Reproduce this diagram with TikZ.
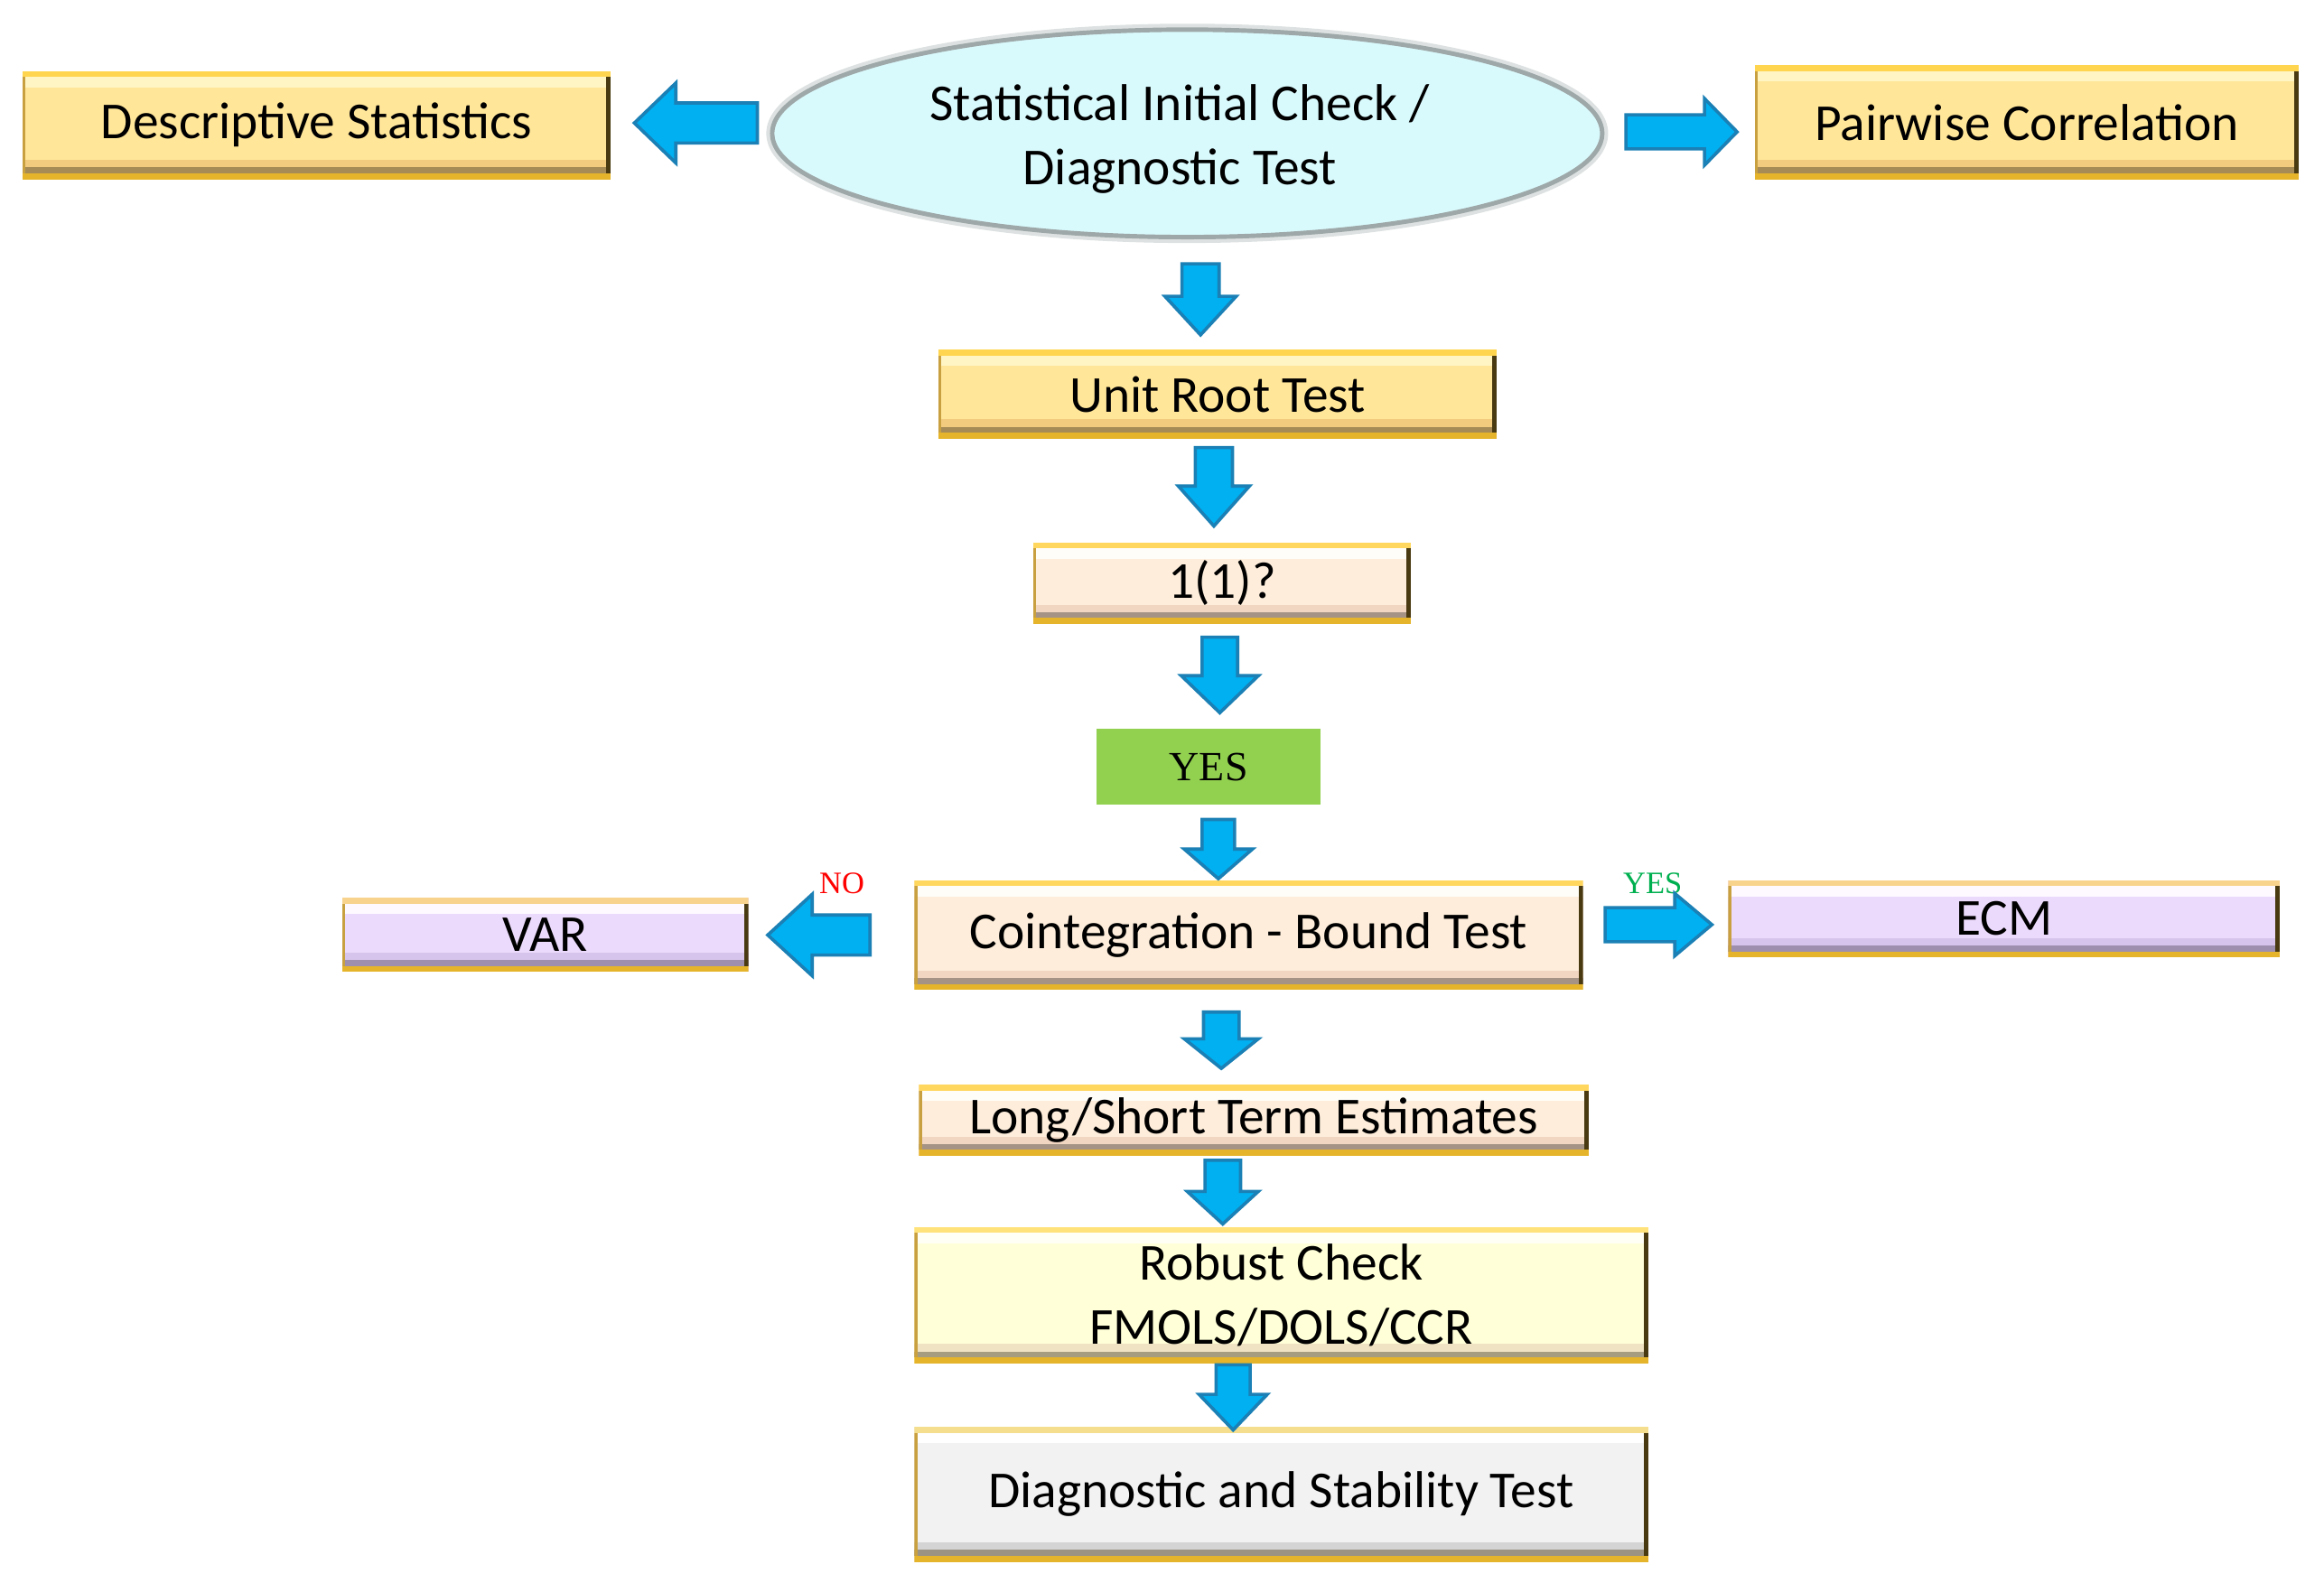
\documentclass[tikz,border=0pt]{standalone}
\usepackage{fontspec}
\setmainfont{Carlito}
\newfontfamily\tnrfont{Liberation Serif}
\usetikzlibrary{shapes.geometric}
\newcommand\mainfs{\fontsize{35}{43}\selectfont}
\definecolor{gbody}{HTML}{FFE699}
\definecolor{gtop}{HTML}{FFD54F}
\definecolor{ghi}{HTML}{FFF5C4}
\definecolor{glow}{HTML}{F2CB7F}
\definecolor{gdark}{HTML}{A68B56}
\definecolor{pbody}{HTML}{FDEDDA}
\definecolor{ptop}{HTML}{FFD75E}
\definecolor{phi}{HTML}{FFFDF8}
\definecolor{plow}{HTML}{F1D6C2}
\definecolor{pdark}{HTML}{A59486}
\definecolor{lbody}{HTML}{ECDAFC}
\definecolor{ltop}{HTML}{F8D38E}
\definecolor{lhi}{HTML}{FDF9FF}
\definecolor{llow}{HTML}{D6C4EC}
\definecolor{ldark}{HTML}{9E8FAE}
\definecolor{ybody}{HTML}{FFFFD8}
\definecolor{ytop}{HTML}{FFE27A}
\definecolor{yhi}{HTML}{FFFFF5}
\definecolor{ylow}{HTML}{EFE3C3}
\definecolor{ydark}{HTML}{A69C80}
\definecolor{sbody}{HTML}{F2F2F2}
\definecolor{stop}{HTML}{F5DF8E}
\definecolor{shi}{HTML}{FFFFFF}
\definecolor{slow}{HTML}{D4D4D4}
\definecolor{sdark}{HTML}{9C9382}
\definecolor{bgold}{HTML}{E5B42A}
\definecolor{edgedark}{HTML}{4A3A12}
\definecolor{edgegold}{HTML}{C9A040}
\definecolor{arrfill}{HTML}{00B0F0}
\definecolor{arrline}{HTML}{1A80B5}
\definecolor{ellfill}{HTML}{D9FAFD}
\definecolor{ellborder}{HTML}{9EA8A8}
\definecolor{yesgreen}{HTML}{92D050}
\definecolor{labgreen}{HTML}{00B050}
\tikzset{
  bev/.style n args={5}{rectangle, fill=#1, inner sep=0pt, font=\mainfs, align=center,
    path picture={
      \fill[#2] (path picture bounding box.north west) rectangle ([yshift=-4pt]path picture bounding box.north east);
      \fill[#3] ([yshift=-4pt]path picture bounding box.north west) rectangle ([yshift=-11pt]path picture bounding box.north east);
      \fill[#4] ([yshift=13pt]path picture bounding box.south west) rectangle ([yshift=8pt]path picture bounding box.south east);
      \fill[#5] ([yshift=8pt]path picture bounding box.south west) rectangle ([yshift=4pt]path picture bounding box.south east);
      \fill[bgold] ([yshift=4pt]path picture bounding box.south west) rectangle (path picture bounding box.south east);
      \fill[edgedark] ([xshift=-3pt,yshift=-4pt]path picture bounding box.north east) rectangle ([yshift=4pt]path picture bounding box.south east);
      \fill[edgegold] ([yshift=-4pt]path picture bounding box.north west) rectangle ([xshift=2pt,yshift=4pt]path picture bounding box.south west);
    }},
  goldbox/.style={bev={gbody}{gtop}{ghi}{glow}{gdark}},
  peachbox/.style={bev={pbody}{ptop}{phi}{plow}{pdark}},
  lavbox/.style={bev={lbody}{ltop}{lhi}{llow}{ldark}},
  ylwbox/.style={bev={ybody}{ytop}{yhi}{ylow}{ydark}},
  greybox/.style={bev={sbody}{stop}{shi}{slow}{sdark}},
  arrowshape/.style={fill=arrfill, draw=arrline, line width=2.2pt, line join=miter},
  pics/barrow/.style n args={4}{code={
    \filldraw[arrowshape] (0,0) -- (-#2,#3/2) -- (-#2,#4/2) -- (-#1,#4/2) -- (-#1,-#4/2) -- (-#2,-#4/2) -- (-#2,-#3/2) -- cycle;
  }},
  smalllab/.style={font=\tnrfont\fontsize{21}{21}\selectfont, inner sep=0pt}
}
\begin{document}
\begin{tikzpicture}[x=1pt,y=-1pt]
\fill[white] (0,0) rectangle (1568,1068);
\useasboundingbox (0,0) rectangle (1568,1068);

% top ellipse
\draw[ellborder!35, line width=8pt] (801,90) ellipse [x radius=280, y radius=70];
\node[ellipse, fill=ellfill, draw=ellborder, line width=3pt, minimum width=560pt, minimum height=140pt, inner sep=0pt] (ell) at (801,90) {};
\node[font=\mainfs, align=center, inner sep=0pt] (elltxt) at (796,94) {Statistical Initial Check /\\Diagnostic Test};

% boxes
\node[goldbox, minimum width=397pt, minimum height=73pt] (desc) at (213.5,84.5) {Descriptive Statistics};
\node[goldbox, minimum width=367pt, minimum height=77pt] (pair) at (1367.5,82.5) {Pairwise Correlation};
\node[goldbox, minimum width=377pt, minimum height=60pt] (unit) at (821.5,266) {Unit Root Test};
\node[peachbox, minimum width=255pt, minimum height=55pt] (ione) at (824.5,393.5) {1(1)?};
\node[fill=yesgreen, minimum width=151pt, minimum height=51pt, inner sep=0pt, font=\tnrfont\fontsize{28}{28}\selectfont] (yes) at (815.5,517.5) {YES};
\node[peachbox, minimum width=451pt, minimum height=74pt] (coint) at (842.5,631) {Cointegration - Bound Test};
\node[lavbox, minimum width=274pt, minimum height=50pt] (var) at (368,631) {VAR};
\node[lavbox, minimum width=372pt, minimum height=52pt] (ecm) at (1352,620) {ECM};
\node[peachbox, minimum width=452pt, minimum height=48pt] (long) at (846,756) {Long/Short Term Estimates};
\node[ylwbox, minimum width=495pt, minimum height=92pt] (rob) at (864.5,874) {Robust Check\\FMOLS/DOLS/CCR};
\node[greybox, minimum width=495pt, minimum height=91pt] (diag) at (864.5,1008.5) {Diagnostic and Stability Test};

% labels
\node[smalllab, text=red] (nolab) at (568,596) {NO};
\node[smalllab, text=labgreen] (yeslab) at (1115,596) {YES};

% block arrows
\pic[rotate=180] at (428,83) {barrow={83}{28}{54}{27}};
\pic at (1172,89) {barrow={75}{22}{45}{23}};
\pic[rotate=-90] at (810,226) {barrow={48}{26}{48}{25}};
\pic[rotate=-90] at (819,355) {barrow={53}{27}{48}{25}};
\pic[rotate=-90] at (823,481) {barrow={51}{25}{52}{24}};
\pic[rotate=-90] at (822,593) {barrow={40}{20}{46}{22}};
\pic[rotate=180] at (518,631) {barrow={69}{30}{55}{27}};
\pic at (1155,624) {barrow={72}{25}{42}{23}};
\pic[rotate=-90] at (824,721) {barrow={38}{20}{50}{24}};
\pic[rotate=-90] at (825,826) {barrow={43}{22}{48}{24}};
\pic[rotate=-90] at (832,965) {barrow={44}{24}{46}{23}};
\end{tikzpicture}
\end{document}
